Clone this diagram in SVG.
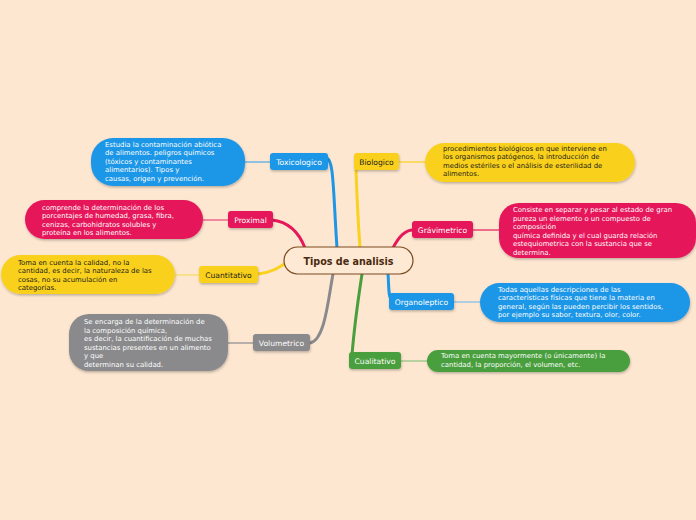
<svg xmlns="http://www.w3.org/2000/svg" width="696" height="520" viewBox="0 0 696 520">
<defs>
<filter id="sh" x="-10%" y="-20%" width="120%" height="150%">
<feDropShadow dx="0.5" dy="1.5" stdDeviation="1" flood-color="#000" flood-opacity="0.25"/>
</filter>
</defs>
<style>
.lbl{font-family:"DejaVu Sans",Verdana,sans-serif;font-size:7.6px;text-anchor:middle}
.d{font-family:"DejaVu Sans",Verdana,sans-serif;font-size:6.9px}
.w{fill:#ffffff}
.k{fill:#1a1a1a}
.blue{fill:#1e96e6}
.pink{fill:#e5195a}
.yel{fill:#f9d11e}
.gray{fill:#8a8a8c}
.green{fill:#4a9e3e}
.br{fill:none;stroke-width:3;stroke-linecap:round}
.tl{fill:none;stroke-width:1.2}
</style>
<rect width="696" height="520" fill="#fde7d1"/>
<g id="connectors">
<path class="br" d="M326,158 C334,158 333,190 337,248" stroke="#1e96e6"/>
<path class="br" d="M356,170 C357,200 358,220 360,248" stroke="#f9d11e"/>
<path class="br" d="M272,220 C290,222 300,235 305,248" stroke="#e5195a"/>
<path class="br" d="M258,274 C270,273 278,268 286,263" stroke="#f9d11e"/>
<path class="br" d="M310,343 C325,340 328,300 333,274" stroke="#8a8a8c"/>
<path class="br" d="M393,248 C398,238 404,230 413,230" stroke="#e5195a"/>
<path class="br" d="M388,274 C389,285 388,298 392,300" stroke="#1e96e6"/>
<path class="br" d="M362,274 C358,300 354,330 352,355" stroke="#4a9e3e"/>
<path class="tl" d="M245,162 H270" stroke="#4aa8e8"/>
<path class="tl" d="M399,162 H425" stroke="#f9d11e"/>
<path class="tl" d="M203,220 H228" stroke="#e84a7c"/>
<path class="tl" d="M175,275 H199" stroke="#f7dc5a"/>
<path class="tl" d="M228,343 H253" stroke="#8a8a8c"/>
<path class="tl" d="M473,230 H499" stroke="#e5195a"/>
<path class="tl" d="M454,302 H480" stroke="#7bbde6"/>
<path class="tl" d="M401,361 H427" stroke="#8cc47e"/>
</g>
<g id="center">
<rect x="284" y="247" width="129" height="27" rx="13.5" fill="#fde9d4" stroke="#7a4a1e" stroke-width="1.2"/>
<text x="348.5" y="264.5" style="font-family:'DejaVu Sans',Verdana,sans-serif;font-size:9.6px;font-weight:bold;text-anchor:middle" fill="#4a2a10">Tipos de analisis</text>
</g>
<g id="toxicologico">
<rect x="270" y="153" width="58" height="17" rx="3" class="blue" filter="url(#sh)"/>
<text x="299" y="164.8" class="lbl w">Toxicologico</text>
</g>
<g id="toxicologico-desc">
<rect x="91" y="138" width="154" height="48" rx="22" class="blue" filter="url(#sh)"/>
<text class="d w"><tspan x="105" y="146.5">Estudia la contaminación abiótica</tspan><tspan x="105" y="155">de alimentos. peligros químicos</tspan><tspan x="105" y="163.5">(tóxicos y contaminantes</tspan><tspan x="105" y="172">alimentarios). Tipos y</tspan><tspan x="105" y="180.5">causas, origen y prevención.</tspan></text>
</g>
<g id="proximal">
<rect x="228" y="211" width="45" height="17" rx="3" class="pink" filter="url(#sh)"/>
<text x="250.5" y="222.8" class="lbl w">Proximal</text>
</g>
<g id="proximal-desc">
<rect x="25" y="200" width="178" height="39" rx="19.5" class="pink" filter="url(#sh)"/>
<text class="d w"><tspan x="42" y="209.5">comprende la determinación de los</tspan><tspan x="42" y="218">porcentajes de humedad, grasa, fibra,</tspan><tspan x="42" y="226.5">cenizas, carbohidratos solubles y</tspan><tspan x="42" y="235">proteína en los alimentos.</tspan></text>
</g>
<g id="cuantitativo">
<rect x="199" y="266" width="59" height="17" rx="3" class="yel" filter="url(#sh)"/>
<text x="228.5" y="277.8" class="lbl k">Cuantitativo</text>
</g>
<g id="cuantitativo-desc">
<rect x="1" y="255" width="174" height="39" rx="19.5" class="yel" filter="url(#sh)"/>
<text class="d k"><tspan x="18" y="264.5">Toma en cuenta la calidad, no la</tspan><tspan x="18" y="273">cantidad, es decir, la naturaleza de las</tspan><tspan x="18" y="281.5">cosas, no su acumulación en</tspan><tspan x="18" y="290">categorías.</tspan></text>
</g>
<g id="volumetrico">
<rect x="253" y="334" width="57" height="17" rx="3" class="gray" filter="url(#sh)"/>
<text x="281.5" y="345.8" class="lbl w">Volumetrico</text>
</g>
<g id="volumetrico-desc">
<rect x="69" y="314" width="159" height="57" rx="20" class="gray" filter="url(#sh)"/>
<text class="d w"><tspan x="84" y="324">Se encarga de la determinación de</tspan><tspan x="84" y="332.5">la composición química,</tspan><tspan x="84" y="341">es decir, la cuantificación de muchas</tspan><tspan x="84" y="349.5">sustancias presentes en un alimento</tspan><tspan x="84" y="358">y que</tspan><tspan x="84" y="366.5">determinan su calidad.</tspan></text>
</g>
<g id="biologico">
<rect x="354" y="153" width="45" height="17" rx="3" class="yel" filter="url(#sh)"/>
<text x="376.5" y="164.8" class="lbl k">Biologico</text>
</g>
<g id="biologico-desc">
<rect x="425" y="143" width="210" height="39" rx="19.5" class="yel" filter="url(#sh)"/>
<text class="d k"><tspan x="443" y="150.5">procedimientos biológicos en que interviene en</tspan><tspan x="443" y="159">los  organismos patógenos, la introducción de</tspan><tspan x="443" y="167.5">medios estériles o el análisis de esterilidad de</tspan><tspan x="443" y="176">alimentos.</tspan></text>
</g>
<g id="gravimetrico">
<rect x="412" y="221" width="61" height="17" rx="3" class="pink" filter="url(#sh)"/>
<text x="442.5" y="232.8" class="lbl w">Grávimetrico</text>
</g>
<g id="gravimetrico-desc">
<rect x="499" y="203" width="197" height="55" rx="20" class="pink" filter="url(#sh)"/>
<text class="d w"><tspan x="513" y="212">Consiste en separar y pesar al estado de gran</tspan><tspan x="513" y="220.5">pureza un elemento o un compuesto de</tspan><tspan x="513" y="229">composición</tspan><tspan x="513" y="237.5">química definida y el cual guarda relación</tspan><tspan x="513" y="246">estequiometrica con la sustancia que se</tspan><tspan x="513" y="254.5">determina.</tspan></text>
</g>
<g id="organoleptico">
<rect x="389" y="293" width="65" height="17" rx="3" class="blue" filter="url(#sh)"/>
<text x="421.5" y="304.8" class="lbl w">Organoleptico</text>
</g>
<g id="organoleptico-desc">
<rect x="480" y="283" width="210" height="39" rx="19.5" class="blue" filter="url(#sh)"/>
<text class="d w"><tspan x="498" y="291.5">Todas aquellas descripciones de las</tspan><tspan x="498" y="300">características físicas que tiene la materia en</tspan><tspan x="498" y="308.5">general, según las pueden percibir los sentidos,</tspan><tspan x="498" y="317">por ejemplo su sabor, textura, olor, color.</tspan></text>
</g>
<g id="cualitativo">
<rect x="349" y="352" width="52" height="17" rx="3" class="green" filter="url(#sh)"/>
<text x="375" y="363.8" class="lbl w">Cualitativo</text>
</g>
<g id="cualitativo-desc">
<rect x="427" y="350" width="203" height="22" rx="11" class="green" filter="url(#sh)"/>
<text class="d w"><tspan x="441" y="358">Toma en cuenta mayormente (o únicamente) la</tspan><tspan x="441" y="367">cantidad, la proporción, el volumen, etc.</tspan></text>
</g>
</svg>
